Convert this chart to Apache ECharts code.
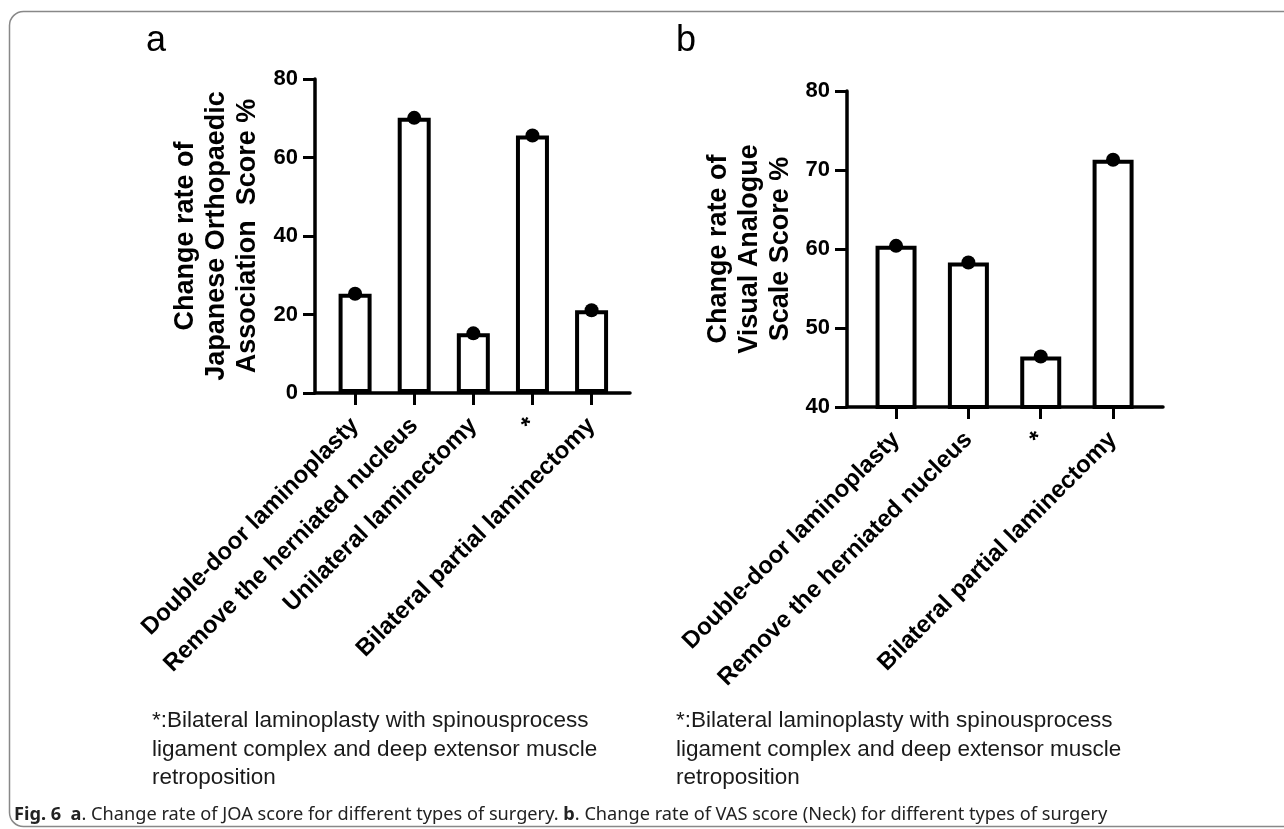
<!DOCTYPE html>
<html>
<head>
<meta charset="utf-8">
<script src="https://cdn.jsdelivr.net/npm/echarts@6/dist/echarts.min.js"></script>
<style>
html,body{margin:0;padding:0;background:#fff;}
#chart{width:1284px;height:829px;}
</style>
</head>
<body>
<div id="chart"></div>
<script>
// ---- data ----
const catsA = ['Double-door laminoplasty', 'Remove the herniated nucleus', 'Unilateral laminectomy', '*', 'Bilateral partial laminectomy'];
const valsA = [25.3, 70.1, 15.2, 65.6, 21.1];
const ticksA = [0, 20, 40, 60, 80];

const catsB = ['Double-door laminoplasty', 'Remove the herniated nucleus', '*', 'Bilateral partial laminectomy'];
const valsB = [60.4, 58.3, 46.4, 71.3];
const ticksB = [40, 50, 60, 70, 80];

const titleA = 'Change rate of\nJapanese Orthopaedic\nAssociation  Score %';
const titleB = 'Change rate of\nVisual Analogue\nScale Score %';
const footnote = '*:Bilateral laminoplasty with spinousprocess\nligament complex and deep extensor muscle\nretroposition';

// ---- chart ----
const FONT = 'Liberation Sans, Arial, sans-serif';
const chart = echarts.init(document.getElementById('chart'));

function xAxisFor(gridIndex, cats, min, max) {
  const idx = cats.map((c, i) => i);
  return {
    type: 'value', gridIndex, min, max,
    splitLine: { show: false },
    axisLine: { show: true, onZero: false, lineStyle: { color: '#000', width: 3.5 } },
    axisTick: { show: true, customValues: idx, length: 12, lineStyle: { color: '#000', width: 3 } },
    axisLabel: {
      customValues: idx, rotate: 45, margin: 29,
      formatter: v => cats[Math.round(v)],
      color: '#000', fontFamily: FONT, fontWeight: 'bold', fontSize: 24
    }
  };
}
function yAxisFor(gridIndex, ticks, name, gap) {
  return {
    type: 'value', gridIndex,
    min: ticks[0], max: ticks[ticks.length - 1], interval: ticks[1] - ticks[0],
    splitLine: { show: false },
    axisLine: { show: true, onZero: false, lineStyle: { color: '#000', width: 3.5 } },
    axisTick: { show: true, length: 12, lineStyle: { color: '#000', width: 3 } },
    axisLabel: { color: '#000', fontFamily: FONT, fontWeight: 'bold', fontSize: 22, margin: 17 },
    name, nameLocation: 'middle', nameRotate: 90, nameGap: gap, nameMoveOverlap: false,
    nameTextStyle: { color: '#000', fontFamily: FONT, fontWeight: 'bold', fontSize: 27, lineHeight: 31, align: 'center' }
  };
}
function barSeries(ai, vals, w) {
  return {
    type: 'bar', xAxisIndex: ai, yAxisIndex: ai, barWidth: w,
    data: vals.map((v, i) => [i, v]),
    itemStyle: { color: '#fff', borderColor: '#000', borderWidth: 4 },
    silent: true, z: 2
  };
}
function dotSeries(ai, vals) {
  return {
    type: 'scatter', xAxisIndex: ai, yAxisIndex: ai, symbol: 'circle', symbolSize: 14,
    data: vals.map((v, i) => [i, v]),
    itemStyle: { color: '#000', opacity: 1 }, silent: true, z: 4
  };
}

chart.setOption({
  animation: false,
  backgroundColor: '#fff',
  title: [
    { text: 'a', left: 141, top: 18, textStyle: { fontFamily: FONT, fontWeight: 'normal', fontSize: 36, color: '#000' } },
    { text: 'b', left: 671, top: 18, textStyle: { fontFamily: FONT, fontWeight: 'normal', fontSize: 36, color: '#000' } }
  ],
  grid: [
    { left: 315, top: 79, width: 315, height: 314 },
    { left: 847, top: 91, width: 316, height: 316 }
  ],
  xAxis: [xAxisFor(0, catsA, -0.678, 4.65), xAxisFor(1, catsB, -0.678, 3.69)],
  yAxis: [yAxisFor(0, ticksA, titleA, 52), yAxisFor(1, ticksB, titleB, 51)],
  series: [barSeries(0, valsA, 33), dotSeries(0, valsA), barSeries(1, valsB, 41), dotSeries(1, valsB)],
  graphic: [
    { type: 'rect', shape: { x: 9.5, y: 11.5, width: 1300, height: 815, r: 14 },
      style: { fill: 'none', stroke: '#888', lineWidth: 1.5 }, silent: true },
    { type: 'text', left: 152, top: 707,
      style: { text: footnote, fontFamily: FONT, fontSize: 22.5, lineHeight: 28.5, fill: '#1a1a1a' } },
    { type: 'text', left: 676, top: 707,
      style: { text: footnote, fontFamily: FONT, fontSize: 22.5, lineHeight: 28.5, fill: '#1a1a1a' } },
    { type: 'text', left: 14, top: 806,
      style: {
        text: '{b|Fig. 6}  {b|a}. Change rate of JOA score for different types of surgery. {b|b}. Change rate of VAS score (Neck) for different types of surgery',
        fontFamily: 'Noto Sans', fontSize: 18.2, fill: '#222',
        rich: { b: { fontFamily: 'Noto Sans', fontSize: 18.2, fontWeight: 'bold', fill: '#222' } }
      } }
  ]
});
</script>
</body>
</html>
